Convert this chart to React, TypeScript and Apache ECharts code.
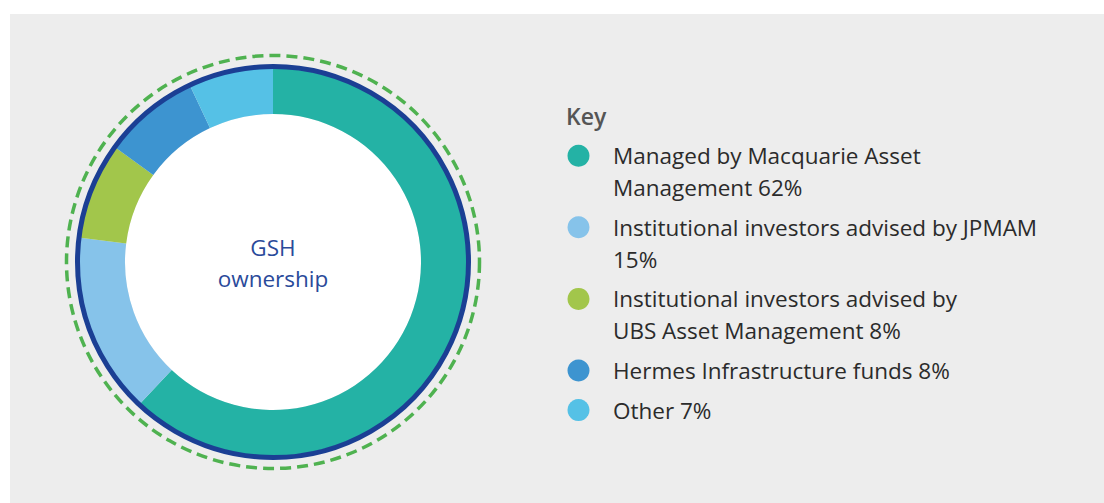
import React, { useEffect, useRef } from "react";
import * as echarts from "echarts";

const categories = [
  "Managed by Macquarie Asset Management",
  "Institutional investors advised by JPMAM",
  "Institutional investors advised by UBS Asset Management",
  "Hermes Infrastructure funds",
  "Other",
];
const shares = [62, 15, 8, 8, 7];
const colors = ["#24b2a5", "#86c3ea", "#a2c64b", "#3d94d0", "#55c1e6"];
const legendLabels = [
  "Managed by Macquarie Asset\nManagement 62%",
  "Institutional investors advised by JPMAM\n15%",
  "Institutional investors advised by\nUBS Asset Management 8%",
  "Hermes Infrastructure funds 8%",
  "Other 7%",
];
const centerLines = ["GSH", "ownership"];
const keyTitle = "Key";

const FONT = "'Open Sans'";

export default function App() {
  const ref = useRef<HTMLDivElement>(null);
  useEffect(() => {
    if (!ref.current) return;
    const chart = echarts.init(ref.current, undefined, { renderer: "svg" });
    const cx = 273;
    const cy = 262;
    const lineH = 32;
    const gap = 7.6;
    const legendGraphics: any[] = [];
    let yFirst = 155.7;
    legendLabels.forEach((lab, i) => {
      const nLines = lab.split("\n").length;
      legendGraphics.push({
        type: "circle",
        shape: { cx: 578.5, cy: yFirst, r: 11 },
        style: { fill: colors[i] },
      });
      legendGraphics.push({
        type: "text",
        x: 613,
        y: yFirst - lineH / 2,
        style: {
          text: lab,
          fill: "#2b2b2b",
          fontSize: 22.5,
          fontFamily: FONT,
          lineHeight: lineH,
          textAlign: "left",
          textVerticalAlign: "top",
          verticalAlign: "top",
        },
      });
      yFirst += nLines * lineH + gap;
    });

    const centerGraphics = centerLines.map((t, i) => ({
      type: "text",
      z: 10,
      x: cx,
      y: cy - 15 + i * 31,
      style: {
        text: t,
        fill: "#2a4a9a",
        fontSize: 22.5,
        fontFamily: FONT,
        textAlign: "center",
        textVerticalAlign: "middle",
        align: "center",
        verticalAlign: "middle",
      },
    }));

    chart.setOption({
      animation: false,
      backgroundColor: "#ffffff",
      graphic: [
        {
          type: "rect",
          z: -10,
          shape: { x: 10, y: 14, width: 1200, height: 600 },
          style: { fill: "#ededed" },
        },
        {
          type: "circle",
          z: 10,
          shape: { cx, cy, r: 206.5 },
          style: { fill: "none", stroke: "#4fb250", lineWidth: 3.5, lineDash: [11, 6] },
        },
        {
          type: "circle",
          z: 10,
          shape: { cx, cy, r: 195.5 },
          style: { fill: "none", stroke: "#1b3f94", lineWidth: 5 },
        },
        {
          type: "circle",
          z: 1,
          shape: { cx, cy, r: 148 },
          style: { fill: "#ffffff" },
        },
        ...centerGraphics,
        {
          type: "text",
          x: 566,
          y: 116,
          style: {
            text: keyTitle,
            fill: "#555555",
            fontSize: 23,
            fontWeight: 600,
            fontFamily: FONT,
            textAlign: "left",
            textVerticalAlign: "middle",
            verticalAlign: "middle",
          },
        },
        ...legendGraphics,
      ],
      series: [
        {
          type: "pie",
          center: [cx, cy],
          radius: [148, 194],
          startAngle: 90,
          clockwise: true,
          label: { show: false },
          labelLine: { show: false },
          silent: true,
          itemStyle: { borderWidth: 0 },
          data: categories.map((c, i) => ({
            name: c,
            value: shares[i],
            itemStyle: { color: colors[i] },
          })),
        },
      ],
    });
    return () => chart.dispose();
  }, []);
  return (
    <div
      ref={ref}
      style={{ position: "fixed", left: 0, top: 0, width: 1104, height: 503 }}
    />
  );
}
